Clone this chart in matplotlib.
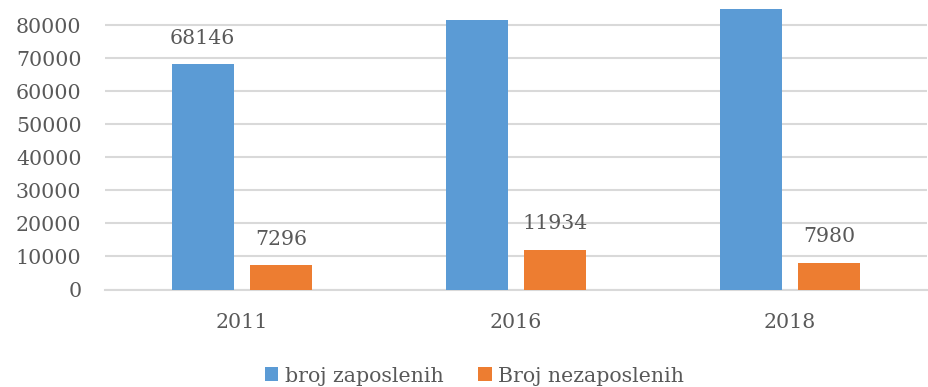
import numpy as np
import matplotlib.pyplot as plt

# podaci po godinama
godine = ["2011", "2016", "2018"]
zaposleni = [68146, 81520, 84940]
nezaposleni = [7296, 11934, 7980]

plava = "#5b9bd5"
narandzasta = "#ed7d31"
siva_tekst = "#595959"
siva_mreza = "#d9d9d9"

plt.rcParams["font.family"] = ["DejaVu Serif"]
velicina = 14.8

fig = plt.figure(figsize=(9.29, 3.87), dpi=100)
# gornji dio grafika izlazi iznad slike (odsjeceno)
ax = fig.add_axes([105 / 929, 97.5 / 387, 822 / 929, 297.5 / 387])

x = np.arange(len(godine))
sirina = 0.2255
razmak = 0.062
pomak = (sirina + razmak) / 2

b1 = ax.bar(x - pomak, zaposleni, sirina, color=plava, label="broj zaposlenih", zorder=2)
b2 = ax.bar(x + pomak, nezaposleni, sirina, color=narandzasta, label="Broj nezaposlenih", zorder=2)

# oznake vrijednosti iznad stubaca (samo one koje stanu u vidljivi dio)
for stupci, vrijednosti in [(b1, zaposleni), (b2, nezaposleni)]:
    for s, v in zip(stupci, vrijednosti):
        if v > 78000:
            continue
        ax.annotate(str(v), (s.get_x() + s.get_width() / 2, v), xytext=(0, 12),
                    textcoords="offset points", ha="center", va="bottom",
                    fontsize=velicina, color=siva_tekst, annotation_clip=False)

ax.set_xlim(-0.5, 2.5)
ax.set_ylim(0, 90000)
ax.set_yticks(np.arange(0, 80001, 10000))
ax.set_xticks(x)
ax.set_xticklabels(godine)

ax.grid(axis="y", color=siva_mreza, linewidth=1.5, zorder=0)
ax.set_axisbelow(True)
for sp in ax.spines.values():
    sp.set_visible(False)
ax.axhline(0, color=siva_mreza, linewidth=1.5, zorder=1, clip_on=False)

ax.tick_params(axis="both", length=0, labelsize=velicina, labelcolor=siva_tekst)
ax.tick_params(axis="y", pad=17)
ax.tick_params(axis="x", pad=17)

fig.legend(handles=[b1, b2], loc="center", bbox_to_anchor=(474.5 / 929, 1 - 376 / 387),
           ncol=2, frameon=False, fontsize=velicina, labelcolor=siva_tekst,
           handlelength=0.68, handleheight=0.68, handletextpad=0.3, columnspacing=1.7,
           borderpad=0, borderaxespad=0)

plt.savefig("out.png", dpi=100)
